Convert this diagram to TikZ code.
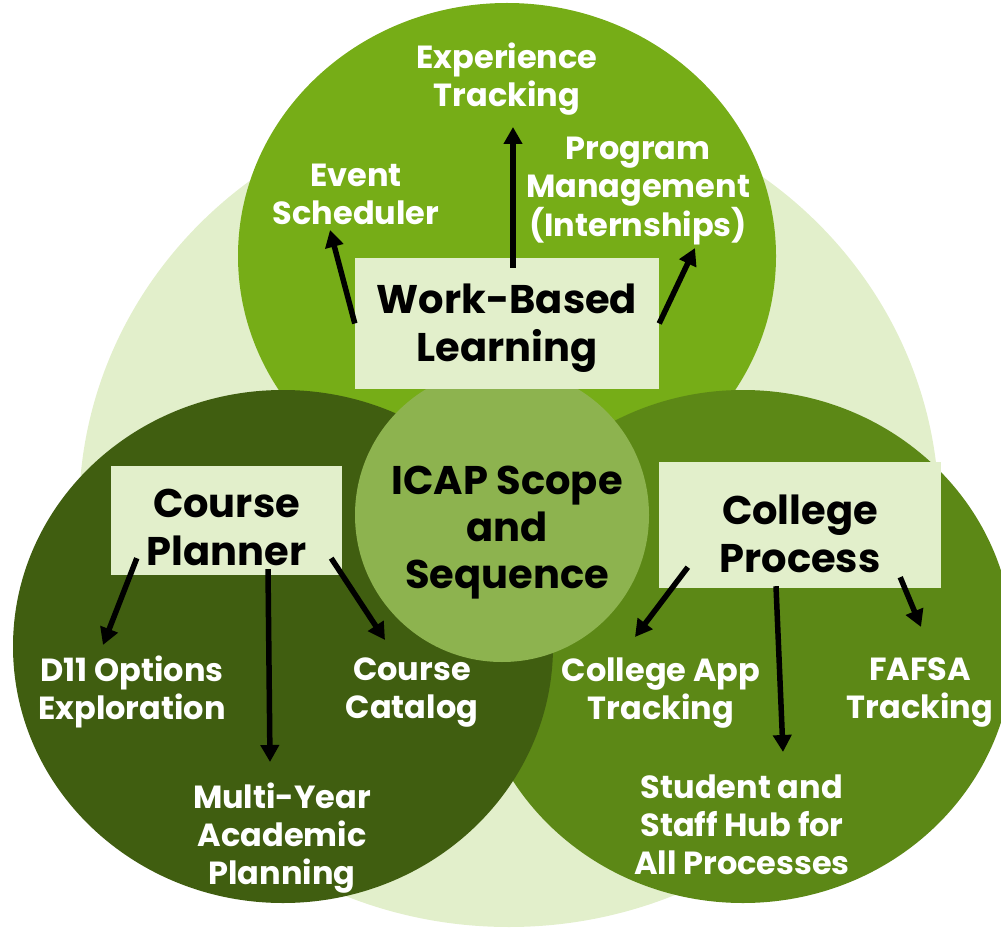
\documentclass[tikz,border=0pt]{standalone}
\usepackage{fontspec}
\setmainfont{Poppins}
\usetikzlibrary{shapes.geometric,arrows.meta}
\definecolor{paleGreen}{HTML}{E2EFCB}
\definecolor{leafGreen}{HTML}{76AD17}
\definecolor{midGreen}{HTML}{5C8816}
\definecolor{darkGreen}{HTML}{405E10}
\definecolor{coreGreen}{HTML}{8DB34F}
\begin{document}
\begin{tikzpicture}[
    x=1pt, y=-1pt,
    blob/.style={ellipse, draw=none, inner sep=0pt},
    area/.style={rectangle, fill=paleGreen, inner sep=0pt},
    title/.style={inner sep=0pt, align=center, font=\fontsize{40}{48}\selectfont\bfseries},
    item/.style={inner sep=0pt, align=center, text=white, font=\fontsize{32}{38}\selectfont\bfseries},
    link/.style={line width=5.5pt, -{Triangle[length=17pt,width=18pt]}},
]
\useasboundingbox (0,0) rectangle (1001,933);
\clip (0,0) rectangle (1001,933);
% background and the three areas
\node[blob, fill=paleGreen, minimum width=860pt, minimum height=830pt] (back) at (509,512) {};
\node[blob, fill=leafGreen, minimum width=538pt, minimum height=506pt] (wblzone) at (507,256) {};
\node[blob, fill=midGreen, minimum width=540pt, minimum height=513pt] (colzone) at (743,646.5) {};
\node[blob, fill=darkGreen, minimum width=540pt, minimum height=513pt] (crszone) at (283,646.5) {};
\node[circle, fill=coreGreen, inner sep=0pt, minimum size=294pt] (core) at (502,515) {};
\node[title, font=\fontsize{40}{47}\selectfont\bfseries] (coretext) at (507,533) {ICAP Scope\\and\\Sequence};
% title boxes
\node[area, minimum width=304pt, minimum height=131pt] (wbl) at (507,323.5) {};
\node[area, minimum width=231pt, minimum height=109pt] (crs) at (226.5,520.5) {};
\node[area, minimum width=282pt, minimum height=126pt] (col) at (800,525) {};
\node[title] (wbltext) at (507,328.5) {Work-Based\\Learning};
\node[title] (crstext) at (226.5,527.5) {Course\\Planner};
\node[title] (coltext) at (800,534) {College\\Process};
% work-based learning
\node[item] (exp) at (507,79) {Experience\\Tracking};
\node[item] (evt) at (356,194) {Event\\Scheduler};
\node[item] (prog) at (638,191) {Program\\Management\\(Internships)};
\draw[link] ([shift={(6,10)}]wbl.north) -- ([shift={(6,48)}]exp.center);
\draw[link] (wbl.west) -- ([shift={(-26,36)}]evt.center);
\draw[link] (wbl.east) -- ([shift={(57,57)}]prog.center);
% course planner
\node[item] (opt) at (132,692) {D11 Options\\Exploration};
\node[item] (cat) at (412,693) {Course\\Catalog};
\node[item] (multi) at (282,838) {Multi-Year\\Academic\\Planning};
\draw[link] ([shift={(26,-17)}]crs.south west) -- ([shift={(-29,-47)}]opt.center);
\draw[link] ([shift={(41.5,-6)}]crs.south) -- ([shift={(-12,-76)}]multi.center);
\draw[link] ([shift={(-11,-17)}]crs.south east) -- ([shift={(-27,-53)}]cat.center);
% college process
\node[item] (app) at (661,693) {College App\\Tracking};
\node[item] (fafsa) at (920,693) {FAFSA\\Tracking};
\node[item] (hub) at (742,825) {Student and\\Staff Hub for\\All Processes};
\draw[link] ([shift={(29,-21)}]col.south west) -- ([shift={(-26,-56)}]app.center);
\draw[link] ([shift={(-24,-2)}]col.south) -- ([shift={(41,-73)}]hub.center);
\draw[link] ([shift={(-41,-11)}]col.south east) -- ([shift={(1,-66)}]fafsa.center);
\end{tikzpicture}
\end{document}
